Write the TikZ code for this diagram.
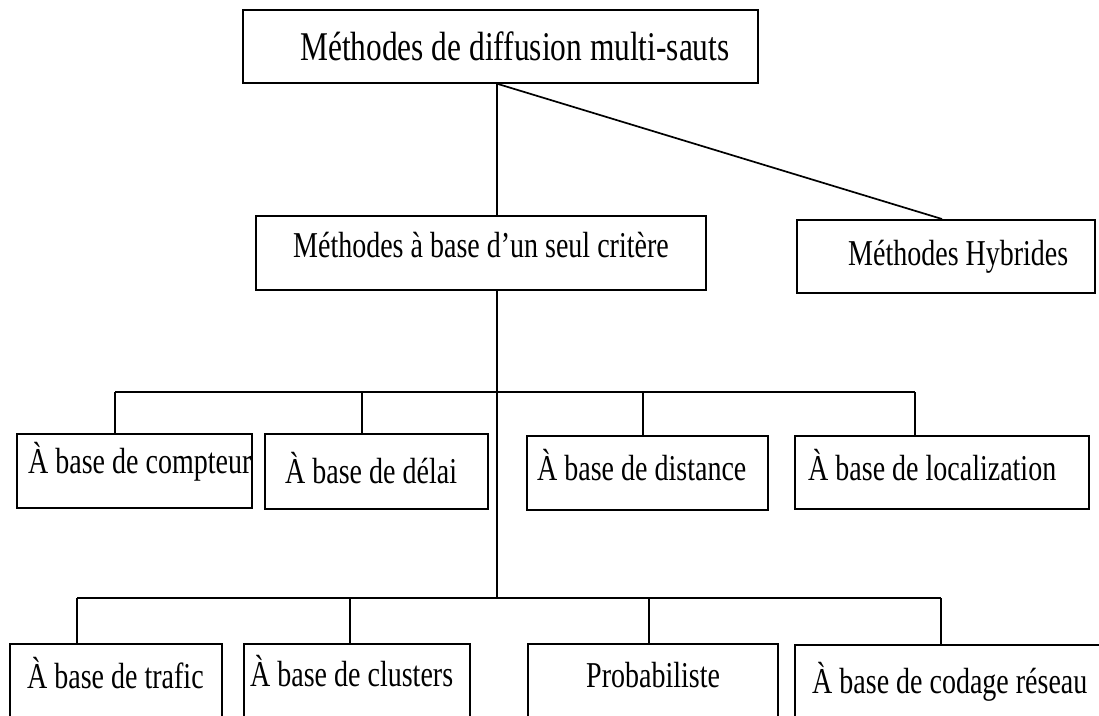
\documentclass[tikz,border=0pt]{standalone}
\usepackage{fontspec}
\setmainfont{Liberation Serif}
\newcommand{\tall}[1]{\scalebox{1}[1.3]{#1}}
\begin{document}
\begin{tikzpicture}[x=1pt,y=-1pt,
  box/.style={draw, line width=1.7pt, inner sep=0pt, anchor=north west},
  lbl/.style={anchor=base west, inner sep=0pt, font=\fontsize{28}{30}\selectfont},
  conn/.style={line width=1.7pt}]
\useasboundingbox (0,0) rectangle (1099,715);
\clip (0,0) rectangle (1099,715);
% boxes
\node[box, minimum width=515pt, minimum height=73pt] (top) at (242,9) {};
\node[box, minimum width=450pt, minimum height=74pt] (seul) at (255,215) {};
\node[box, minimum width=298pt, minimum height=73pt] (hyb) at (796,219) {};
\node[box, minimum width=235pt, minimum height=74pt] (cpt) at (16,433) {};
\node[box, minimum width=223pt, minimum height=75pt] (del) at (264,433) {};
\node[box, minimum width=241pt, minimum height=74pt] (dis) at (526,435) {};
\node[box, minimum width=294pt, minimum height=73pt] (loc) at (794,435) {};
\node[box, minimum width=212pt, minimum height=110pt] (tra) at (9,643) {};
\node[box, minimum width=226pt, minimum height=110pt] (clu) at (243,643) {};
\node[box, minimum width=250pt, minimum height=110pt] (pro) at (527,643) {};
\node[box, minimum width=330pt, minimum height=110pt] (cod) at (794,644) {};
% labels
\node[lbl, font=\fontsize{31.4}{34}\selectfont] (toptxt) at (300,60) {\tall{Méthodes de diffusion multi-sauts}};
\node[lbl] (seultxt) at (293,257) {\tall{Méthodes à base d’un seul critère}};
\node[lbl] (hybtxt) at (848,265) {\tall{Méthodes Hybrides}};
\node[lbl] (cpttxt) at (28,473) {\tall{À base de compteur}};
\node[lbl] (deltxt) at (285,483) {\tall{À base de délai}};
\node[lbl] (distxt) at (537,480) {\tall{À base de distance}};
\node[lbl] (loctxt) at (808,480) {\tall{À base de localization}};
\node[lbl] (tratxt) at (27,688) {\tall{À base de trafic}};
\node[lbl] (clutxt) at (250,686) {\tall{À base de clusters}};
\node[lbl] (protxt) at (586,687) {\tall{Probabiliste}};
\node[lbl] (codtxt) at (812,693) {\tall{À base de codage réseau}};
% connector coordinates
\coordinate (tr) at (497,0);
\coordinate (hd) at (942,0);
\coordinate (b2) at (497,598);
\coordinate (d1) at (115,392);
\coordinate (d2) at (362,392);
\coordinate (d3) at (643,392);
\coordinate (d4) at (915,392);
\coordinate (e1) at (77,598);
\coordinate (e2) at (350,598);
\coordinate (e3) at (649,598);
\coordinate (e4) at (941,598);
% connectors
\draw[conn] (top.south -| tr) -- (seul.north -| tr);
\draw[conn] (top.south -| tr) -- (hyb.north -| hd);
\draw[conn] (seul.south -| tr) -- (b2);
\draw[conn] (d1) -- (d4);
\draw[conn] (e1) -- (e4);
\draw[conn] (d1) -- (d1 |- cpt.north);
\draw[conn] (d2) -- (d2 |- del.north);
\draw[conn] (d3) -- (d3 |- dis.north);
\draw[conn] (d4) -- (d4 |- loc.north);
\draw[conn] (e1) -- (e1 |- tra.north);
\draw[conn] (e2) -- (e2 |- clu.north);
\draw[conn] (e3) -- (e3 |- pro.north);
\draw[conn] (e4) -- (e4 |- cod.north);
\end{tikzpicture}
\end{document}
